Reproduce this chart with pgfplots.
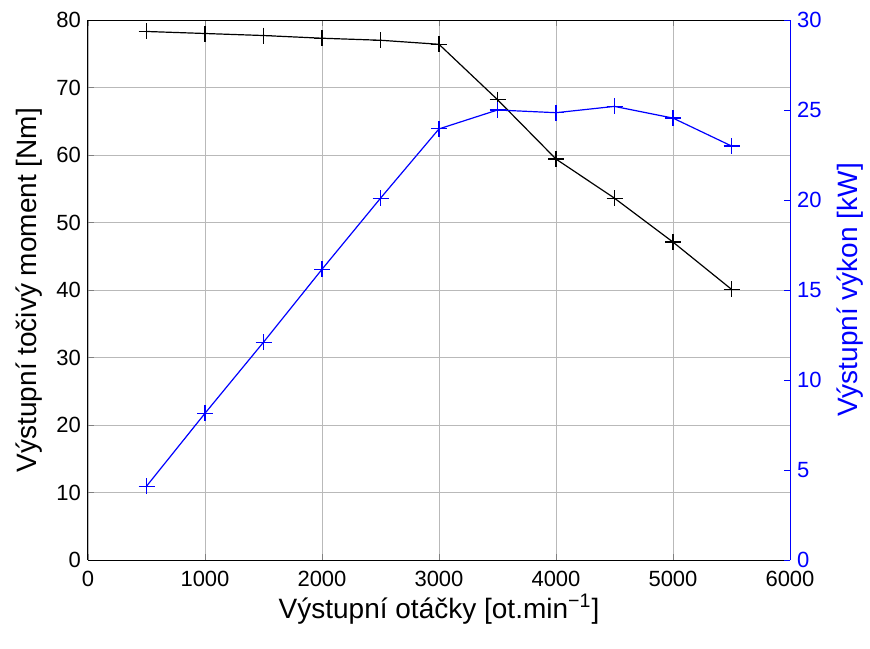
\documentclass[border=0pt]{standalone}
\usepackage{fontspec}
\setmainfont{Liberation Sans}
\usepackage{pgfplots}
\pgfplotsset{compat=1.18}
\definecolor{mblue}{RGB}{0,0,255}
\begin{document}
\begin{tikzpicture}
\path[use as bounding box] (-44pt,-44pt) rectangle (391pt,280pt);
\begin{axis}[
  scale only axis, width=351pt, height=270pt,
  xmin=0, xmax=6000, ymin=0, ymax=80,
  xtick={0,1000,...,6000}, ytick={0,10,...,80},
  axis y line*=left, axis x line*=box,
  grid=major, major grid style={gray!55, line width=0.4pt},
  tick align=inside, major tick length=3pt,
  tick label style={font=\fontsize{11}{13}\selectfont},
  label style={font=\fontsize{14}{16}\selectfont},
  /pgf/number format/assume math mode=true,
  scaled x ticks=false,
  x tick label style={/pgf/number format/1000 sep={}, yshift=-2pt},
  xlabel={Výstupní otáčky [ot.min\textsuperscript{−1}]},
  ylabel={Výstupní točivý moment [Nm]},
  xlabel style={yshift=3pt}, ylabel style={yshift=0pt},
  axis line style={line width=0.5pt},
]
\addplot[black, line width=0.6pt, mark=+, mark size=4pt] coordinates {
(500,78.3) (1000,78.0) (1500,77.7) (2000,77.3) (2500,77.0) (3000,76.4)
(3500,68.2) (4000,59.4) (4500,53.6) (5000,47.1) (5500,40.1)};
\end{axis}
\begin{axis}[
  scale only axis, width=351pt, height=270pt,
  xmin=0, xmax=6000, ymin=0, ymax=30,
  ytick={0,5,...,30},
  axis y line*=right, axis x line=none,
  tick align=inside, major tick length=3pt,
  y axis line style={mblue, line width=0.5pt},
  ytick style={mblue},
  yticklabel style={mblue, font=\fontsize{11}{13}\selectfont},
  /pgf/number format/assume math mode=true,
  ylabel={Výstupní výkon [kW]},
  ylabel style={mblue, font=\fontsize{14}{16}\selectfont, yshift=-1pt},
]
\addplot[mblue, line width=0.6pt, mark=+, mark size=4pt] coordinates {
(500,4.1) (1000,8.15) (1500,12.1) (2000,16.15) (2500,20.1) (3000,23.95)
(3500,25.0) (4000,24.85) (4500,25.2) (5000,24.55) (5500,23.0)};
\end{axis}
\end{tikzpicture}
\end{document}
